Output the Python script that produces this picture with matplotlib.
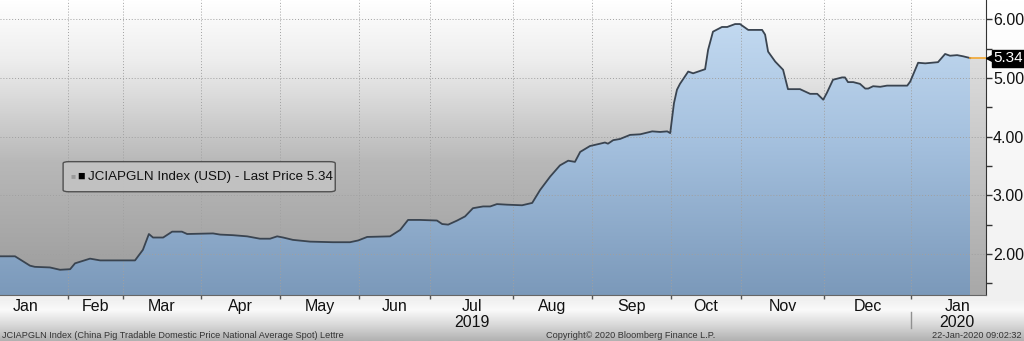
import numpy as np
import matplotlib
matplotlib.use("Agg")
import matplotlib.pyplot as plt
from matplotlib.colors import LinearSegmentedColormap
from matplotlib.patches import FancyBboxPatch

plt.rcParams['font.family'] = ['Liberation Sans', 'DejaVu Sans']

# trading-session index (0 = first session shown) and index level
sessions = [0, 4, 8, 9.3, 13.3, 16, 18.7, 20, 24, 26.7, 32, 36, 38.1, 39.7, 40.8, 43.5,
            45.9, 48.5, 49.9, 56.8, 58.7, 62.1, 65.9, 69.3, 72, 73.9, 75.5, 78.1, 82.7,
            88.8, 93.3, 95.5, 97.9, 104, 106.7, 108.8, 112, 116.5, 117.9, 119.5, 121.9,
            124, 126.1, 128.8, 130.7, 132.5, 135.2, 139.2, 141.9, 144, 146.7, 149.3,
            151.5, 153.3, 154.7, 157.3, 160, 161.3, 162.1, 163.5, 165.3, 168, 170.7,
            173.9, 176, 177.9, 178.7, 179.7, 180.5, 181.3, 183.5, 184.8, 188, 188.8,
            190.1, 192.5, 193.9, 196, 197.3, 199.5, 203.2, 204, 204.8, 206.7, 208.8,
            210.1, 213.3, 216, 217.9, 219.5, 220.5, 222.1, 224.5, 225.3, 226.1, 227.5,
            229.3, 230.7, 231.5, 232.8, 234.7, 236.5, 241.9, 242.7, 244.8, 246.7, 250.1,
            252, 253.3, 255.2, 256.8, 258.7]
price = [1.96, 1.96, 1.80, 1.78, 1.77, 1.73, 1.74, 1.84, 1.92, 1.89, 1.89, 1.89, 2.07,
         2.34, 2.28, 2.28, 2.38, 2.38, 2.34, 2.35, 2.33, 2.32, 2.30, 2.26, 2.26, 2.30,
         2.28, 2.24, 2.21, 2.20, 2.20, 2.23, 2.29, 2.30, 2.41, 2.58, 2.58, 2.57, 2.51,
         2.50, 2.57, 2.64, 2.78, 2.81, 2.81, 2.85, 2.84, 2.83, 2.87, 3.09, 3.32, 3.51,
         3.59, 3.57, 3.74, 3.84, 3.88, 3.90, 3.88, 3.94, 3.96, 4.03, 4.04, 4.09, 4.08,
         4.09, 4.06, 4.57, 4.80, 4.90, 5.11, 5.08, 5.15, 5.48, 5.79, 5.87, 5.87, 5.92,
         5.92, 5.82, 5.82, 5.74, 5.45, 5.28, 5.14, 4.81, 4.81, 4.73, 4.73, 4.63, 4.75,
         4.97, 5.01, 5.01, 4.93, 4.93, 4.90, 4.82, 4.82, 4.86, 4.85, 4.87, 4.87, 4.94,
         5.26, 5.25, 5.27, 5.41, 5.38, 5.39, 5.37, 5.34]

month_names = ["Jan", "Feb", "Mar", "Apr", "May", "Jun", "Jul", "Aug", "Sep", "Oct",
               "Nov", "Dec", "Jan"]
# session index where each month begins (first/last are outside the window)
month_starts = [-4.3, 18.1, 32.8, 53.6, 74.7, 95.7, 114.7, 136.8, 157.9, 178.9, 197.6,
                219.7, 242.9, 267.5]
years = [("2019", 6), ("2020", 12)]
y_ticks = [2.00, 3.00, 4.00, 5.00, 6.00]
x_end = 262.9
y_lo, y_hi = 1.30, 6.33
last_price = price[-1]

fig = plt.figure(figsize=(10.24, 3.41), dpi=100)

# figure background: light strip below the chart
bg = fig.add_axes([0, 0, 1, 1], zorder=-10)
bg.axis("off")
bg_cmap = LinearSegmentedColormap.from_list(
    "bg", [(0, "#b2b2b2"), (0.05, "#dcdcdc"), (0.09, "#fafafa"), (0.12, "#f0f0f0"), (1, "#ffffff")])
bg.imshow(np.linspace(0, 1, 512).reshape(-1, 1), aspect="auto", cmap=bg_cmap,
          extent=[0, 1, 0, 1], origin="lower")
bg.set_xlim(0, 1)
bg.set_ylim(0, 1)

ax = fig.add_axes([0, 46 / 341, 986 / 1024, 295 / 341])
ax.set_xlim(0, x_end)
ax.set_ylim(y_lo, y_hi)

# plot background gradient (white top, grey bottom)
pb_cmap = LinearSegmentedColormap.from_list(
    "pb", [(0, "#9a9a9a"), (0.45, "#b8b8b8"), (0.8, "#eeeeee"), (1, "#ffffff")])
ax.imshow(np.linspace(0, 1, 256).reshape(-1, 1), aspect="auto", cmap=pb_cmap,
          extent=[0, x_end, y_lo, y_hi], origin="lower", zorder=0)

# area fill with vertical blue gradient
poly = ax.fill_between(sessions, price, y_lo, color="none", lw=0, zorder=1)
fill_cmap = LinearSegmentedColormap.from_list("fill", ["#7b99ba", "#a3bfdd", "#c8def4"])
im = ax.imshow(np.linspace(0, 1, 256).reshape(-1, 1), aspect="auto", cmap=fill_cmap,
               extent=[0, x_end, y_lo, y_hi], origin="lower", zorder=1)
im.set_clip_path(poly.get_paths()[0], transform=ax.transData)

# grey block after the last observation
ext = ax.fill_between([sessions[-1], x_end], [last_price, last_price], y_lo,
                      color="none", lw=0, zorder=1)
ext_cmap = LinearSegmentedColormap.from_list("ext", ["#a8a8a8", "#c8c8c8", "#ebebeb"])
im2 = ax.imshow(np.linspace(0, 1, 256).reshape(-1, 1), aspect="auto", cmap=ext_cmap,
                extent=[0, x_end, y_lo, y_hi], origin="lower", zorder=1)
im2.set_clip_path(ext.get_paths()[0], transform=ax.transData)

ax.plot(sessions, price, color="#3a4450", lw=1.3, zorder=3)
ax.plot([sessions[-1], x_end], [last_price, last_price], color="#f2a630", lw=1.2, zorder=3)

# grid
for v in y_ticks:
    ax.axhline(v, color="#a0a0a0", lw=0.7, ls=(0, (1, 2)), zorder=2)
for m in month_starts[1:-1]:
    ax.axvline(m, color="#a0a0a0", lw=0.7, ls=(0, (1, 2)), zorder=2)

# axes styling
for s in ["top", "left"]:
    ax.spines[s].set_visible(False)
ax.spines["right"].set_color("#333333")
ax.spines["bottom"].set_color("#666666")
ax.yaxis.tick_right()
ax.set_yticks(y_ticks)
ax.set_yticklabels([f"{v:.2f}" for v in y_ticks])
ax.set_yticks(np.arange(1.5, 6.3, 1.0), minor=True)
ax.tick_params(axis="y", which="major", length=4, width=1, color="#333333", pad=1,
               labelsize=11.5, labelcolor="#111111")
ax.tick_params(axis="y", which="minor", length=4, width=1, color="#333333")
ax.set_xticks(month_starts[1:-1])
ax.set_xticklabels([])
ax.tick_params(axis="x", length=3, width=1, color="#555555")

for i, name in enumerate(month_names):
    mid = (month_starts[i] + month_starts[i + 1]) / 2
    ax.text(mid, -0.012, name, transform=ax.get_xaxis_transform(), ha="center", va="top",
            fontsize=11.5, color="#111111", clip_on=False)
for label, idx in years:
    mid = (month_starts[idx] + month_starts[idx + 1]) / 2
    ax.text(mid, -0.068, label, transform=ax.get_xaxis_transform(), ha="center", va="top",
            fontsize=11.5, color="#111111", clip_on=False)
ax.plot([month_starts[12], month_starts[12]], [-0.058, -0.112], color="#909090", lw=1,
        transform=ax.get_xaxis_transform(), clip_on=False)

# last price tag
ax.plot([1.004], [last_price], marker="<", ms=6, color="black", clip_on=False, zorder=5,
        transform=ax.get_yaxis_transform())
ax.text(1.0075, last_price, f"{last_price:.2f}", ha="left", va="center",
        fontsize=11, color="white", clip_on=False, zorder=6,
        transform=ax.get_yaxis_transform(),
        bbox=dict(boxstyle="square,pad=0.1", fc="black", ec="black"))

# legend box
box = FancyBboxPatch((0.066, 0.352), 0.272, 0.098, boxstyle="round,pad=0.002,rounding_size=0.006",
                     transform=ax.transAxes, fc="#c2c2c2", ec="#4a4a4a", lw=1, alpha=0.95, zorder=6)
ax.add_patch(box)
ax.text(0.071, 0.401, "\u25a0", transform=ax.transAxes, fontsize=6, color="#9a9a9a",
        va="center", ha="left", zorder=7)
ax.text(0.078, 0.401, "\u25a0", transform=ax.transAxes, fontsize=9, color="black",
        va="center", ha="left", zorder=7)
ax.text(0.089, 0.401, "JCIAPGLN Index (USD) - Last Price 5.34", transform=ax.transAxes,
        fontsize=9.6, color="#111111", va="center", ha="left", zorder=7)

# footer
fig.text(0.002, 0.016, "JCIAPGLN Index (China Pig Tradable Domestic Price National Average Spot) Lettre",
         fontsize=6.6, color="#333333", ha="left", va="center")
fig.text(0.616, 0.016, "Copyright\u00a9 2020 Bloomberg Finance L.P.", fontsize=6.6,
         color="#333333", ha="center", va="center")
fig.text(0.998, 0.016, "22-Jan-2020 09:02:32", fontsize=6.6, color="#333333",
         ha="right", va="center")

fig.savefig("out.png", dpi=100)
